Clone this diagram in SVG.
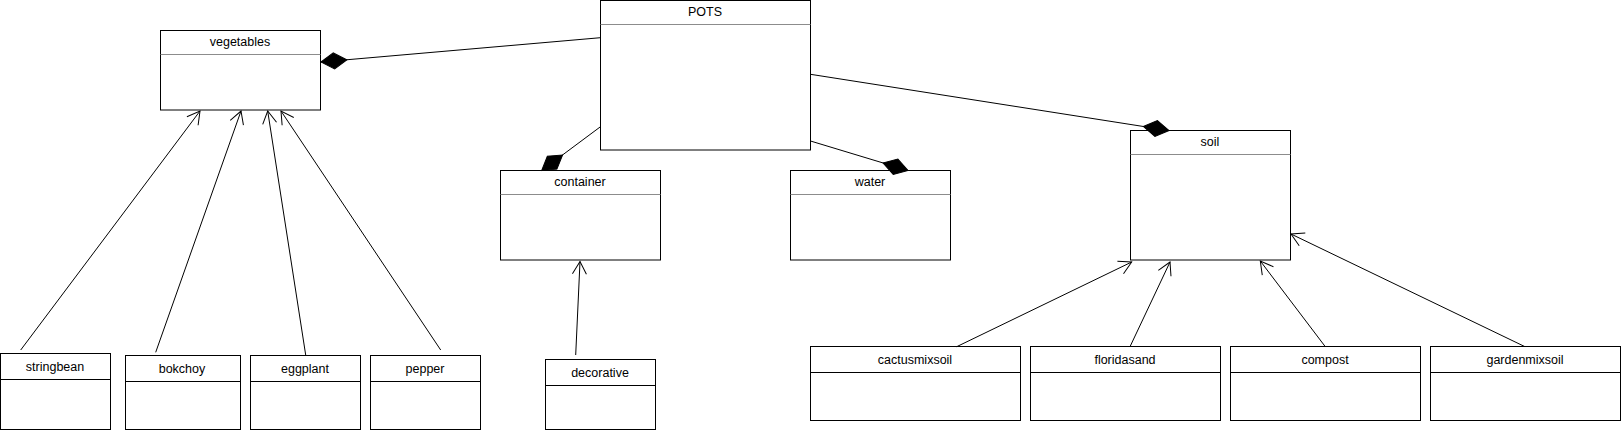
<svg xmlns="http://www.w3.org/2000/svg" width="1621" height="431" viewBox="0 0 1621 431">
<style>
.box{fill:#fff;stroke:#000;stroke-width:1}
.div{stroke:#8c8c8c;stroke-width:1}
.divb{stroke:#000;stroke-width:1}
.t{font-family:"Liberation Sans",Arial,sans-serif;font-size:12.5px;fill:#000;text-anchor:middle}
.c{stroke:#000;stroke-width:1;fill:none}
.comp{marker-end:url(#diamond)}
.gen{marker-end:url(#arrow)}
</style>
<defs>
<marker id="diamond" markerUnits="userSpaceOnUse" viewBox="-28 -10 30 20" refX="0" refY="0" markerWidth="30" markerHeight="20" orient="auto">
<path d="M-26,0 L-13,-8 L0,0 L-13,8 Z" fill="#000" stroke="#000" stroke-width="1"/>
</marker>
<marker id="arrow" markerUnits="userSpaceOnUse" viewBox="-16 -10 20 20" refX="0" refY="0" markerWidth="20" markerHeight="20" orient="auto">
<path d="M-12.5,-7 L0,0 L-12.5,7" fill="none" stroke="#000" stroke-width="1"/>
</marker>
</defs>
<rect width="1621" height="431" fill="#fff"/>
<g id="vegetables">
<rect class="box" x="160.5" y="30.5" width="160" height="79.5"/>
<line class="div" x1="160.5" y1="54.5" x2="320.5" y2="54.5"/>
<text class="t" x="240" y="45.5">vegetables</text>
</g>
<g id="POTS">
<rect class="box" x="600.5" y="0.5" width="210" height="149.5"/>
<line class="div" x1="600.5" y1="24.5" x2="810.5" y2="24.5"/>
<text class="t" x="705" y="15.5">POTS</text>
</g>
<g id="container">
<rect class="box" x="500.5" y="170.5" width="160" height="89.5"/>
<line class="div" x1="500.5" y1="194.5" x2="660.5" y2="194.5"/>
<text class="t" x="580" y="185.5">container</text>
</g>
<g id="water">
<rect class="box" x="790.5" y="170.5" width="160" height="89.5"/>
<line class="div" x1="790.5" y1="194.5" x2="950.5" y2="194.5"/>
<text class="t" x="870" y="185.5">water</text>
</g>
<g id="soil">
<rect class="box" x="1130.5" y="130.5" width="160" height="129.5"/>
<line class="div" x1="1130.5" y1="154.5" x2="1290.5" y2="154.5"/>
<text class="t" x="1210" y="145.5">soil</text>
</g>
<g id="stringbean">
<rect class="box" x="0.5" y="353.5" width="110" height="76"/>
<line class="divb" x1="0.5" y1="379.5" x2="110.5" y2="379.5"/>
<text class="t" x="55" y="370.8">stringbean</text>
</g>
<g id="bokchoy">
<rect class="box" x="125.5" y="355.5" width="115" height="74"/>
<line class="divb" x1="125.5" y1="381.5" x2="240.5" y2="381.5"/>
<text class="t" x="182" y="372.8">bokchoy</text>
</g>
<g id="eggplant">
<rect class="box" x="250.5" y="355.5" width="110" height="74"/>
<line class="divb" x1="250.5" y1="381.5" x2="360.5" y2="381.5"/>
<text class="t" x="305" y="372.8">eggplant</text>
</g>
<g id="pepper">
<rect class="box" x="370.5" y="355.5" width="110" height="74"/>
<line class="divb" x1="370.5" y1="381.5" x2="480.5" y2="381.5"/>
<text class="t" x="425" y="372.8">pepper</text>
</g>
<g id="decorative">
<rect class="box" x="545.5" y="359.5" width="110" height="70"/>
<line class="divb" x1="545.5" y1="385.5" x2="655.5" y2="385.5"/>
<text class="t" x="600" y="376.8">decorative</text>
</g>
<g id="cactusmixsoil">
<rect class="box" x="810.5" y="346.5" width="210" height="74"/>
<line class="divb" x1="810.5" y1="372.5" x2="1020.5" y2="372.5"/>
<text class="t" x="915" y="363.5">cactusmixsoil</text>
</g>
<g id="floridasand">
<rect class="box" x="1030.5" y="346.5" width="190" height="74"/>
<line class="divb" x1="1030.5" y1="372.5" x2="1220.5" y2="372.5"/>
<text class="t" x="1125" y="363.5">floridasand</text>
</g>
<g id="compost">
<rect class="box" x="1230.5" y="346.5" width="190" height="74"/>
<line class="divb" x1="1230.5" y1="372.5" x2="1420.5" y2="372.5"/>
<text class="t" x="1325" y="363.5">compost</text>
</g>
<g id="gardenmixsoil">
<rect class="box" x="1430.5" y="346.5" width="190" height="74"/>
<line class="divb" x1="1430.5" y1="372.5" x2="1620.5" y2="372.5"/>
<text class="t" x="1525" y="363.5">gardenmixsoil</text>
</g>
<g id="connectors">
<line class="c comp" x1="600.5" y1="37.7" x2="321" y2="62"/>
<line class="c comp" x1="600.5" y1="126.7" x2="541.7" y2="170.5"/>
<line class="c comp" x1="810.5" y1="141" x2="908" y2="170.5"/>
<line class="c comp" x1="810.5" y1="74.3" x2="1169" y2="130.5"/>
<line class="c gen" x1="20.7" y1="350" x2="200" y2="111"/>
<line class="c gen" x1="155.7" y1="352.3" x2="241" y2="111"/>
<line class="c gen" x1="305.7" y1="355" x2="267.7" y2="111"/>
<line class="c gen" x1="440.7" y1="350" x2="281" y2="111"/>
<line class="c gen" x1="575.7" y1="355" x2="580" y2="261.5"/>
<line class="c gen" x1="956.7" y1="346.7" x2="1131.7" y2="262"/>
<line class="c gen" x1="1130" y1="346.7" x2="1170" y2="262"/>
<line class="c gen" x1="1325.3" y1="346.7" x2="1260.3" y2="261"/>
<line class="c gen" x1="1525" y1="346.7" x2="1291" y2="234"/>
</g>
</svg>
